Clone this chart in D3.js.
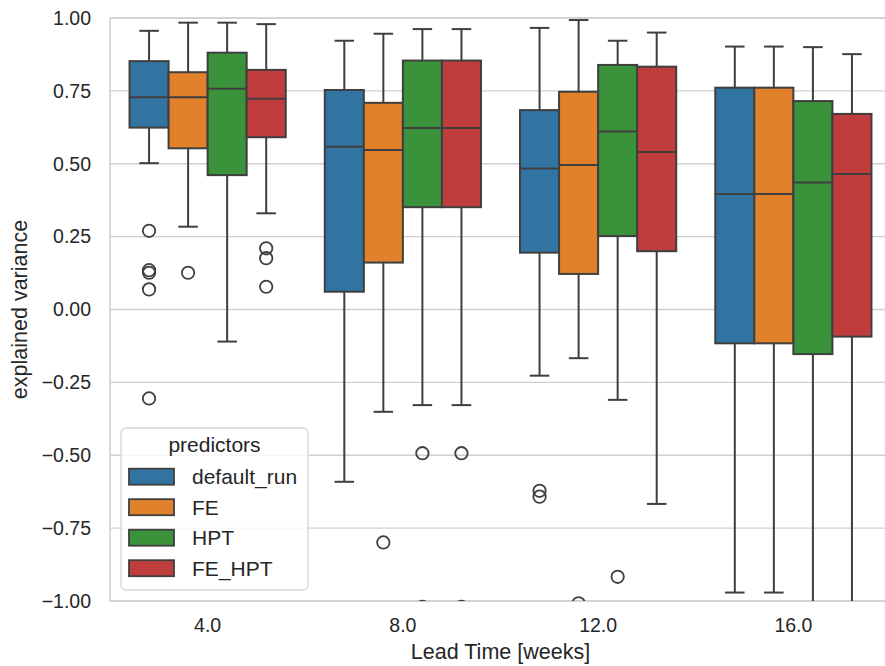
<!DOCTYPE html>
<html>
<head>
    <meta charset="utf-8">
    <style>
        body { margin: 0; background: #fff; }
        text { font-family: "Liberation Sans", Arial, sans-serif; fill: #262626; }
    </style>
</head>
<body>
    <svg width="885" height="666"></svg>
    <script src="https://d3js.org/d3.v7.min.js"></script>
    <script>
        // categories on the x axis and the hue groups
        let leadTimes = ["4.0", "8.0", "12.0", "16.0"];
        let predictors = ["default_run", "FE", "HPT", "FE_HPT"];
        let colors = ["#3274a1", "#e1812c", "#3a923a", "#c03d3e"];
        let yTicks = [-1, -0.75, -0.5, -0.25, 0, 0.25, 0.5, 0.75, 1];

        // box statistics, rows = predictor, columns = lead time
        let whiskerLow = [
            [0.502, -0.591, -0.227, -0.971],
            [0.284, -0.351, -0.167, -0.971],
            [-0.110, -0.328, -0.310, -1.05],
            [0.330, -0.328, -0.667, -1.05]
        ];
        let q1 = [
            [0.624, 0.061, 0.195, -0.116],
            [0.553, 0.161, 0.122, -0.116],
            [0.461, 0.351, 0.252, -0.153],
            [0.591, 0.351, 0.200, -0.093]
        ];
        let median = [
            [0.728, 0.558, 0.484, 0.396],
            [0.728, 0.547, 0.496, 0.396],
            [0.757, 0.623, 0.611, 0.436],
            [0.723, 0.623, 0.540, 0.465]
        ];
        let q3 = [
            [0.852, 0.753, 0.684, 0.761],
            [0.814, 0.709, 0.747, 0.761],
            [0.881, 0.854, 0.839, 0.715],
            [0.822, 0.854, 0.833, 0.671]
        ];
        let whiskerHigh = [
            [0.956, 0.922, 0.966, 0.902],
            [0.984, 0.946, 0.993, 0.902],
            [0.984, 0.962, 0.922, 0.900],
            [0.979, 0.962, 0.950, 0.876]
        ];
        let outliers = [
            [[0.270, 0.135, 0.126, 0.069, -0.305], [], [-0.622, -0.642], []],
            [[0.126], [-0.799], [-1.008], []],
            [[], [-0.493, -1.02], [-0.917], []],
            [[0.210, 0.176, 0.078], [-0.493, -1.02], [], []]
        ];

        let margin = {left: 110, top: 18, right: 891, bottom: 601};
        let lineColor = "#3f3f3f";
        let gridColor = "#d0d0d0";

        let svg = d3.select("svg");

        let x = d3.scaleBand().domain(leadTimes).range([margin.left, margin.right]);
        let hue = d3.scaleBand().domain(predictors).range([0, x.bandwidth() * 0.8]);
        let y = d3.scaleLinear().domain([-1, 1]).range([margin.bottom, margin.top]);

        svg.append("clipPath").attr("id", "plot")
            .append("rect")
            .attr("x", margin.left).attr("y", margin.top)
            .attr("width", margin.right - margin.left)
            .attr("height", margin.bottom - margin.top);

        // grid
        svg.append("g").selectAll("line").data(yTicks).enter()
            .append("line")
            .attr("x1", margin.left).attr("x2", margin.right)
            .attr("y1", d => y(d)).attr("y2", d => y(d))
            .attr("stroke", gridColor).attr("stroke-width", 1.4);

        // spines
        svg.append("line")
            .attr("x1", margin.left).attr("x2", margin.left)
            .attr("y1", margin.top).attr("y2", margin.bottom)
            .attr("stroke", gridColor).attr("stroke-width", 1.6);

        // y tick labels
        let yAxis = d3.axisLeft(y).tickValues(yTicks).tickSize(0).tickPadding(19)
            .tickFormat(d => d3.format(".2f")(d).replace("-", "\u2212"));
        let gy = svg.append("g").attr("transform", `translate(${margin.left},0)`).call(yAxis);
        gy.select(".domain").remove();
        gy.selectAll("text").style("font-size", "19.5px").attr("fill", "#262626")
            .style("font-family", '"Liberation Sans", Arial, sans-serif');

        // x tick labels
        let xAxis = d3.axisBottom(x).tickSize(0).tickPadding(17);
        let gx = svg.append("g").attr("transform", `translate(0,${margin.bottom})`).call(xAxis);
        gx.select(".domain").remove();
        gx.selectAll("text").style("font-size", "19.5px").attr("fill", "#262626")
            .style("font-family", '"Liberation Sans", Arial, sans-serif');

        // bottom and top spines under the marks
        svg.append("line")
            .attr("x1", margin.left).attr("x2", margin.right)
            .attr("y1", margin.bottom).attr("y2", margin.bottom)
            .attr("stroke", gridColor).attr("stroke-width", 1.6);
        svg.append("line")
            .attr("x1", margin.left).attr("x2", margin.right)
            .attr("y1", margin.top).attr("y2", margin.top)
            .attr("stroke", gridColor).attr("stroke-width", 1.6);

        // boxes
        let plot = svg.append("g").attr("clip-path", "url(#plot)");
        let boxes = [];
        predictors.forEach(function(p, i) {
            leadTimes.forEach(function(c, j) {
                boxes.push({
                    p: i, c: c,
                    lo: whiskerLow[i][j], q1: q1[i][j], med: median[i][j],
                    q3: q3[i][j], hi: whiskerHigh[i][j], out: outliers[i][j]
                });
            });
        });

        let bw = hue.bandwidth();
        let groups = plot.selectAll("g.box").data(boxes).enter()
            .append("g").attr("class", "box")
            .attr("transform", d => `translate(${x(d.c) + x.bandwidth() * 0.1 + hue(predictors[d.p])},0)`);

        groups.append("line")
            .attr("x1", bw / 2).attr("x2", bw / 2)
            .attr("y1", d => y(d.hi)).attr("y2", d => y(d.q3))
            .attr("stroke", lineColor).attr("stroke-width", 2);
        groups.append("line")
            .attr("x1", bw / 2).attr("x2", bw / 2)
            .attr("y1", d => y(d.q1)).attr("y2", d => y(d.lo))
            .attr("stroke", lineColor).attr("stroke-width", 2);
        groups.append("line")
            .attr("x1", bw / 4).attr("x2", bw * 3 / 4)
            .attr("y1", d => y(d.hi)).attr("y2", d => y(d.hi))
            .attr("stroke", lineColor).attr("stroke-width", 2);
        groups.append("line")
            .attr("x1", bw / 4).attr("x2", bw * 3 / 4)
            .attr("y1", d => y(d.lo)).attr("y2", d => y(d.lo))
            .attr("stroke", lineColor).attr("stroke-width", 2);
        groups.append("rect")
            .attr("x", 0).attr("width", bw)
            .attr("y", d => y(d.q3)).attr("height", d => y(d.q1) - y(d.q3))
            .attr("fill", d => colors[d.p])
            .attr("stroke", lineColor).attr("stroke-width", 2);
        groups.append("line")
            .attr("x1", 0).attr("x2", bw)
            .attr("y1", d => y(d.med)).attr("y2", d => y(d.med))
            .attr("stroke", lineColor).attr("stroke-width", 2);
        groups.selectAll("circle").data(d => d.out).enter()
            .append("circle")
            .attr("cx", bw / 2).attr("cy", d => y(d)).attr("r", 6.2)
            .attr("fill", "none").attr("stroke", lineColor).attr("stroke-width", 1.8);

        // axis labels
        svg.append("text")
            .attr("x", (margin.left + margin.right) / 2).attr("y", 659)
            .attr("text-anchor", "middle").style("font-size", "21.5px")
            .text("Lead Time [weeks]");
        svg.append("text")
            .attr("transform", `translate(27,${(margin.top + margin.bottom) / 2}) rotate(-90)`)
            .attr("text-anchor", "middle").style("font-size", "21.5px")
            .text("explained variance");

        // legend
        let legend = svg.append("g");
        legend.append("rect")
            .attr("x", 121).attr("y", 428).attr("width", 187).attr("height", 162)
            .attr("rx", 5).attr("fill", "#fff").attr("fill-opacity", 0.8)
            .attr("stroke", "#d8d8d8").attr("stroke-width", 1.4);
        legend.append("text")
            .attr("x", 214.5).attr("y", 452)
            .attr("text-anchor", "middle").style("font-size", "21px")
            .text("predictors");
        let items = legend.selectAll("g.item").data(predictors).enter()
            .append("g").attr("class", "item")
            .attr("transform", (d, i) => `translate(129,${476.7 + i * 30.5})`);
        items.append("rect")
            .attr("x", 0).attr("y", -8).attr("width", 45).attr("height", 16)
            .attr("fill", (d, i) => colors[i])
            .attr("stroke", lineColor).attr("stroke-width", 1.8);
        items.append("text")
            .attr("x", 63).attr("y", 0).attr("dy", "0.35em")
            .style("font-size", "21px")
            .text(d => d);
    </script>
</body>
</html>
